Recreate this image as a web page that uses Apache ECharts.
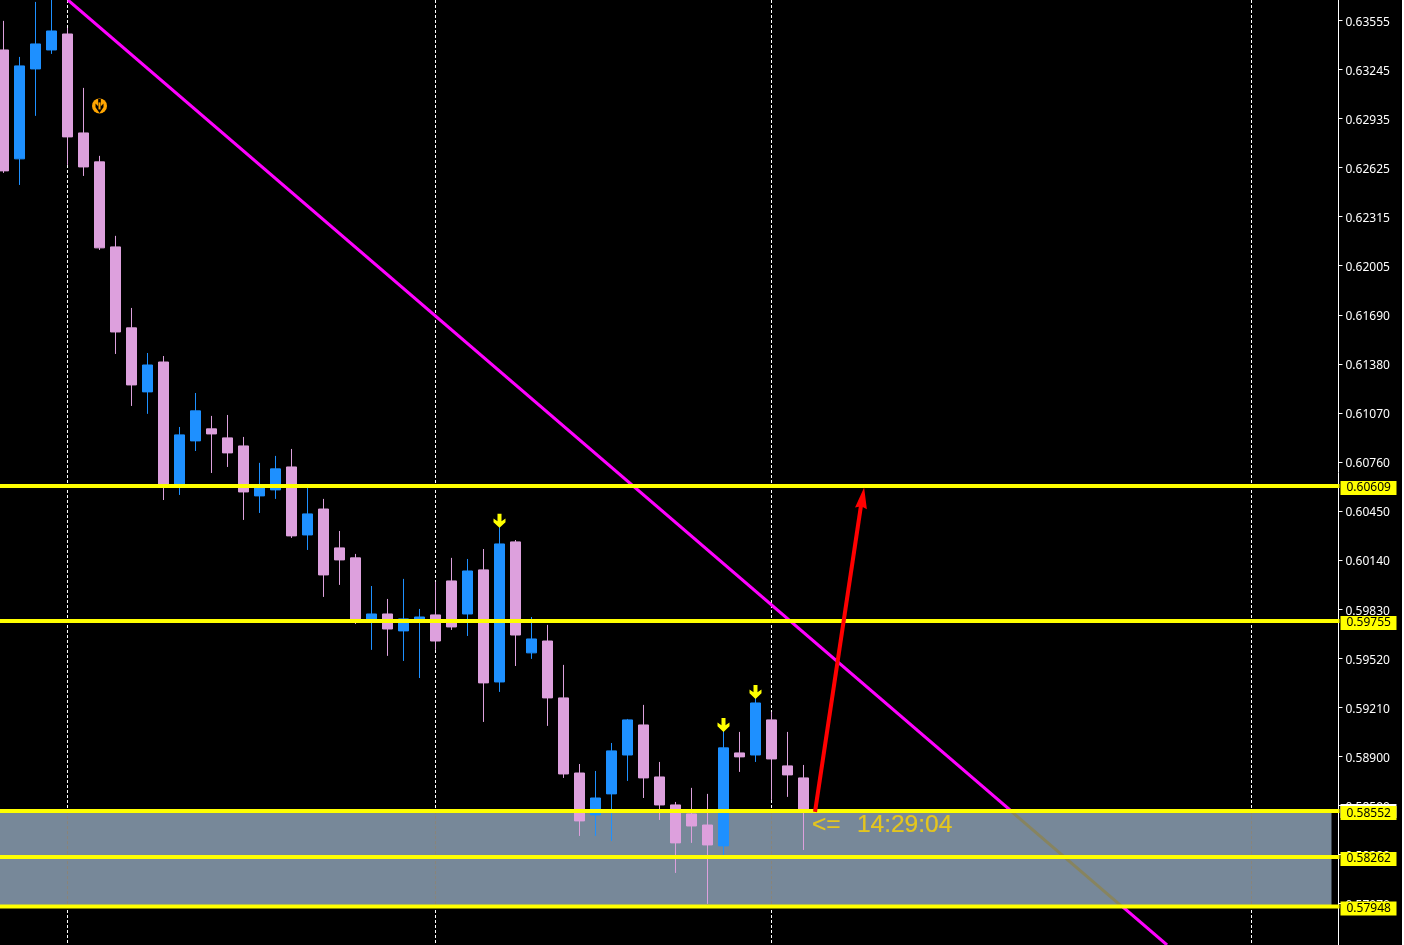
<!DOCTYPE html>
<html><head><meta charset="utf-8">
<style>html,body{margin:0;padding:0;background:#fff;overflow:hidden}#c{width:1402px;height:945px}</style>
<script src="https://cdn.jsdelivr.net/npm/echarts@6/dist/echarts.min.js"></script>
</head><body><div id="c"></div>
<script>
const opens=[.63367,.62678,.63247,.63367,.63468,.62842,.62659,.62121,.61609,.61204,.61393,.60609,.60894,.60970,.60913,.60862,.60546,.60584,.60729,.60299,.60463,.60217,.60154,.59755,.59799,.59692,.59761,.59793,.60008,.59799,.60078,.59369,.60255,.59553,.59628,.59268,.58793,.58528,.58661,.58907,.59097,.58768,.58591,.58534,.58464,.58332,.58920,.58907,.59129,.58838,.58762];
const closes=[.62602,.63266,.63405,.63487,.62817,.62627,.62115,.61583,.61248,.61374,.60609,.60932,.61084,.60938,.60818,.60571,.60615,.60717,.60293,.60432,.60046,.60141,.59755,.59799,.59704,.59768,.59780,.59628,.59717,.60071,.59363,.60242,.59666,.59641,.59268,.58787,.58490,.58635,.58933,.59129,.58762,.58591,.58351,.58458,.58338,.58952,.58895,.59236,.58882,.58781,.58553];
const lows=[.62589,.62513,.62950,.63342,.62640,.62570,.62102,.61444,.61115,.61065,.60520,.60552,.60830,.60691,.60729,.60394,.60438,.60527,.60280,.60204,.59907,.59983,.59736,.59572,.59534,.59502,.59394,.59572,.59698,.59660,.59116,.59306,.59470,.59515,.59091,.58762,.58395,.58395,.58363,.58743,.58635,.58496,.58161,.58351,.57965,.58275,.58800,.58863,.58623,.58642,.58306];
const highs=[.63551,.63323,.63671,.63683,.63506,.63127,.62697,.62191,.61735,.61450,.61431,.60982,.61197,.61052,.61058,.60919,.60755,.60799,.60843,.60609,.60527,.60324,.60179,.59976,.59894,.60021,.59831,.60002,.60154,.60147,.60210,.60350,.60267,.59780,.59730,.59477,.58850,.58806,.58983,.59135,.59224,.58863,.58610,.58699,.58661,.59059,.59053,.59268,.59179,.59053,.58844];

const priceTicks=[.63555,.63245,.62935,.62625,.62315,.62005,.61690,.61380,.61070,.60760,.60450,.60140,.59830,.59520,.59210,.58900,.58590,.58280,.57970];
const levels=[.60609,.59755,.58552,.58262,.57948];
const zone=[-0.5,83,.58552,.57948];
const separators=[4,27,48,78];
const trend=[[4.03,.63683],[72.72,.57705]];
const trendInZone=[[62.97,.58552],[69.91,.57948]];
const redShaft=[[50.72,.58547],[53.6,.60489]];
const redHead=[[53.69,.60533]];
const downMarks=[[31,.60388],[45,.59097],[47,.59306]];
const orangeMark=[[6,.63013]];
const timerArrow=[[50.53,.58462]];
const timerText=[[53.34,.58462]];
const priceMin=.57705, priceMax=.63683, slots=84;
const categories=Array.from({length:slots},(_,i)=>String(i));

const YELLOW='#ffff00', PLUM='#dda0dd', BLUE='#1e90ff', GOLD='#ffd400';
const FONT='"Noto Sans",sans-serif';
const arrowPath='path://M4 0H8V7L12 4.5V8L6 13.5L0 8V4.5L4 7Z';

const series=[];
separators.forEach(x=>series.push({type:'line',xAxisIndex:1,z:1,symbol:'none',silent:true,animation:false,
  data:[[x,priceMax],[x,priceMin]],lineStyle:{color:'#fff',width:1,type:[3,2]}}));
series.push({type:'line',xAxisIndex:1,z:2,symbol:'none',animation:false,data:trend,lineStyle:{color:'#ff00ff',width:3}});
series.push({type:'custom',xAxisIndex:1,z:3,animation:false,silent:true,data:[zone],clip:true,
  renderItem(p,api){
    const a=api.coord([api.value(0),api.value(2)]),b=api.coord([api.value(1),api.value(3)]);
    return {type:'rect',shape:{x:a[0],y:a[1],width:b[0]-a[0],height:b[1]-a[1]},style:{fill:'#778899'}};
  }});
separators.forEach(x=>series.push({type:'line',xAxisIndex:1,z:4,symbol:'none',animation:false,
  data:[[x,zone[2]],[x,zone[3]]],lineStyle:{color:'#8a8478',width:1,type:[3,2]}}));
series.push({type:'line',xAxisIndex:1,z:4,symbol:'none',animation:false,data:trendInZone,lineStyle:{color:'#87845f',width:3}});
series.push({type:'candlestick',xAxisIndex:0,z:5,animation:false,barWidth:10,
  data:opens.map((o,i)=>[o,closes[i],lows[i],highs[i]]),
  itemStyle:{color:BLUE,color0:PLUM,borderColor:BLUE,borderColor0:PLUM,borderWidth:1}});
// white sliver peeking above the 0.58552 price tag
series.push({type:'line',xAxisIndex:1,z:6,symbol:'none',animation:false,data:[[-0.5,levels[2]],[83.5,levels[2]]],
  lineStyle:{opacity:0},endLabel:{show:true,formatter:levels[2].toFixed(5),distance:1,offset:[0,0],color:'#fff',
  backgroundColor:'#fff',fontFamily:FONT,fontSize:12,width:56,height:14,lineHeight:14,padding:0,align:'left'}});
levels.forEach(v=>series.push({type:'line',xAxisIndex:1,z:7,symbol:'none',animation:false,
  data:[[-0.5,v],[83.5,v]],lineStyle:{color:YELLOW,width:4},
  endLabel:{show:true,formatter:v.toFixed(5),distance:1,offset:[0,2],color:'#000',backgroundColor:YELLOW,
    fontFamily:FONT,fontSize:12,width:50,height:10,lineHeight:14,padding:[4,0,0,6],align:'left'}}));
const solid=color=>({color,opacity:1});
series.push({type:'scatter',xAxisIndex:0,z:8,animation:false,data:downMarks,symbol:arrowPath,symbolSize:[12,14],itemStyle:solid(YELLOW)});
series.push({type:'scatter',xAxisIndex:0,z:8,animation:false,data:orangeMark,symbol:'circle',symbolSize:15,itemStyle:solid('#ffa500')});
series.push({type:'scatter',xAxisIndex:0,z:9,animation:false,data:orangeMark,symbol:arrowPath,symbolSize:[8,14],itemStyle:solid('#000')});
series.push({type:'scatter',xAxisIndex:0,z:10,animation:false,data:orangeMark,symbol:'rect',symbolSize:[2,7],itemStyle:solid('#ffa500')});
series.push({type:'line',xAxisIndex:1,z:8,symbol:'none',animation:false,data:redShaft,lineStyle:{color:'#ff0000',width:4}});
series.push({type:'scatter',xAxisIndex:1,z:8,animation:false,data:redHead,symbol:'path://M6 0L12 20L6 18L0 20Z',symbolSize:[12,21],symbolRotate:-8.6,itemStyle:solid('#ff0000')});
const timerLabel=t=>({show:true,position:'right',distance:0,formatter:t,color:GOLD,textBorderColor:GOLD,textBorderWidth:0.2,fontFamily:'"Liberation Sans",sans-serif',fontSize:24.5});
series.push({type:'scatter',xAxisIndex:1,z:9,animation:false,data:timerArrow,symbolSize:0,label:timerLabel('<=')});
series.push({type:'scatter',xAxisIndex:1,z:9,animation:false,data:timerText,symbolSize:0,label:timerLabel('14:29:04')});

const chart=echarts.init(document.getElementById('c'),null,{renderer:'canvas'});
chart.setOption({
  backgroundColor:'#000',animation:false,legend:{show:false},tooltip:{show:false},
  grid:{left:-4.5,top:0,width:1344,height:945,outerBoundsMode:'none',containLabel:false},
  xAxis:[
    {type:'category',data:categories,show:false,boundaryGap:true},
    {type:'value',min:-0.5,max:83.5,show:false,splitLine:{show:false}}
  ],
  yAxis:{type:'value',position:'right',offset:-1,min:priceMin,max:priceMax,scale:true,splitLine:{show:false},
    axisLine:{show:true,onZero:false,lineStyle:{color:'#fff',width:1}},
    axisTick:{show:true,length:4,lineStyle:{color:'#fff'},customValues:priceTicks},
    axisLabel:{show:true,color:'#fff',margin:7,verticalAlign:'top',lineHeight:4,fontFamily:FONT,fontSize:12,customValues:priceTicks,formatter:v=>v.toFixed(5)}},
  series
});
</script></body></html>
